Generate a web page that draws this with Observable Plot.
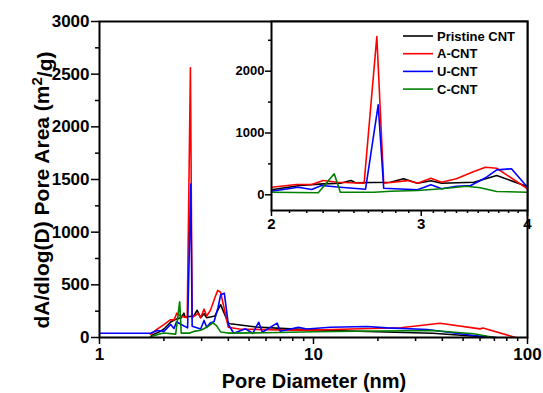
<!DOCTYPE html>
<html>
<head>
<meta charset="utf-8">
<script src="https://cdn.jsdelivr.net/npm/d3@7"></script>
<script src="https://cdn.jsdelivr.net/npm/@observablehq/plot@0.6"></script>
<style>
  html, body { margin: 0; padding: 0; background: white; }
  #wrap { position: relative; width: 543px; height: 393px; }
  #inset { position: absolute; left: 226px; top: 17px; }
  svg { font-family: "Liberation Sans", Arial, sans-serif; }
</style>
</head>
<body>
<div id="wrap"><div id="main"></div><div id="inset"></div></div>
<script>
// ---- data (pore diameter in nm, dA/dlog(D) in m2/g) ----
const seriesNames = ["Pristine CNT", "A-CNT", "U-CNT", "C-CNT"];
const seriesColors = ["#000000", "#ff0000", "#0000ff", "#008000"];

const pristineD = [1.75, 1.93, 2.0, 2.16, 2.3, 2.41, 2.48, 2.51, 2.76, 2.86, 2.97, 3.08, 3.17, 3.46, 3.68, 4.0, 4.09, 5.4, 7.8, 12, 36, 69];
const pristineV = [20, 60, 81, 150, 177, 188, 231, 194, 204, 259, 188, 226, 188, 204, 312, 135, 130, 100, 82, 66, 41, 0];

const aD = [1.73, 1.86, 2.0, 2.14, 2.23, 2.3, 2.39, 2.57, 2.66, 2.71, 2.89, 2.97, 3.08, 3.17, 3.30, 3.46, 3.57, 3.68, 4.0, 4.5, 6, 8, 10, 15, 25.5, 39, 60, 62, 88];
const aV = [30, 80, 123, 167, 167, 231, 204, 188, 2561, 188, 230, 188, 269, 204, 259, 377, 447, 430, 97, 80, 75, 70, 70, 80, 92, 136, 82, 90, 0];

const uD = [1, 1.73, 1.86, 2.0, 2.15, 2.23, 2.29, 2.41, 2.58, 2.67, 2.71, 2.97, 3.08, 3.17, 3.30, 3.43, 3.58, 3.68, 3.83, 4.0, 4.24, 4.81, 5.2, 5.55, 5.76, 6.76, 7.0, 8.5, 9.3, 12, 17.8, 22, 34, 56, 72];
const uV = [41, 41, 66, 58, 123, 86, 150, 123, 91, 1456, 107, 81, 162, 97, 139, 150, 285, 404, 421, 123, 40, 82, 40, 145, 50, 136, 60, 98, 80, 98, 104, 91, 76, 19, 0];

const cD = [1.73, 1.93, 2.0, 2.27, 2.37, 2.41, 2.64, 2.76, 2.97, 3.17, 3.39, 3.52, 3.68, 4.0, 6, 10, 20, 36, 56, 70];
const cV = [8, 35, 42, 32, 340, 42, 42, 58, 69, 97, 139, 113, 53, 42, 45, 55, 62, 66, 35, 0];

const mainXTicks = [1, 10, 100];
const mainXMinor = [2, 3, 4, 5, 6, 7, 8, 9, 20, 30, 40, 50, 60, 70, 80, 90];
const mainYTicks = [0, 500, 1000, 1500, 2000, 2500, 3000];
const mainYMinor = [250, 750, 1250, 1750, 2250, 2750];
const insetXTicks = [2, 3, 4];
const insetXMinor = [2.1, 2.2, 2.3, 2.4, 2.5, 2.6, 2.7, 2.8, 2.9, 3.1, 3.2, 3.3, 3.4, 3.5, 3.6, 3.7, 3.8, 3.9];
const insetYTicks = [0, 1000, 2000];
const insetYMinor = [500, 1500, 2500];

const xTitle = "Pore Diameter (nm)";
const yTitleParts = ["dA/dlog(D) Pore Area (m", "2", "/g)"];

// ---- build rows ----
const seriesD = [pristineD, aD, uD, cD];
const seriesV = [pristineV, aV, uV, cV];
const rows = seriesNames.flatMap((name, k) => seriesD[k].map((d, i) => ({name, d, v: seriesV[k][i]})));

const font = '"Liberation Sans", Arial, sans-serif';
const blank = () => "";

const lines = (clip) => seriesNames.map((name, k) =>
  Plot.line(rows.filter(r => r.name === name), {x: "d", y: "v", stroke: seriesColors[k], strokeWidth: 1.6, clip}));

const main = Plot.plot({
  width: 543, height: 393,
  marginLeft: 99, marginRight: 16, marginTop: 21, marginBottom: 56,
  style: {fontFamily: font, fontWeight: "bold", background: "white", overflow: "visible", color: "black"},
  x: {type: "log", domain: [1, 100], label: null},
  y: {domain: [0, 3000], label: null},
  marks: [
    ...lines(false),
    Plot.axisX({ticks: mainXTicks, tickFormat: d => String(d), tickSize: 7, tickPadding: 3, fontSize: 17, strokeWidth: 1.5, label: null}),
    Plot.axisX({ticks: mainXMinor, tickFormat: blank, tickSize: 4, strokeWidth: 1.5, label: null}),
    Plot.axisY({ticks: mainYTicks, tickFormat: d => String(d), tickSize: 8, tickPadding: 2, fontSize: 17, strokeWidth: 1.5, label: null}),
    Plot.axisY({ticks: mainYMinor, tickFormat: blank, tickSize: 4, strokeWidth: 1.5, label: null}),
    Plot.frame({stroke: "black", strokeWidth: 2})
  ]
});
document.getElementById("main").appendChild(main);

// axis titles
const msvg = d3.select(main);
msvg.append("text")
  .attr("x", 314).attr("y", 388)
  .attr("text-anchor", "middle")
  .attr("font-family", font).attr("font-weight", "bold").attr("font-size", 20)
  .attr("fill", "black")
  .text(xTitle);
const yt = msvg.append("text")
  .attr("transform", "translate(49,190) rotate(-90)")
  .attr("text-anchor", "middle")
  .attr("font-family", font).attr("font-weight", "bold").attr("font-size", 21)
  .attr("fill", "black");
yt.append("tspan").text(yTitleParts[0]);
yt.append("tspan").attr("dy", "-0.5em").attr("font-size", 15).text(yTitleParts[1]);
yt.append("tspan").attr("dy", "0.5em").text(yTitleParts[2]);

// ---- inset ----
const inset = Plot.plot({
  width: 305, height: 221,
  marginLeft: 45, marginRight: 4, marginTop: 4, marginBottom: 28,
  style: {fontFamily: font, fontWeight: "bold", background: "transparent", overflow: "visible", color: "black"},
  x: {type: "log", domain: [2, 4], label: null},
  y: {domain: [-254, 2804], label: null},
  marks: [
    Plot.frame({fill: "white"}),
    ...lines(true),
    Plot.axisX({ticks: insetXTicks, tickFormat: d => String(d), tickSize: 6, tickPadding: 2, fontSize: 15, strokeWidth: 1.5, label: null}),
    Plot.axisX({ticks: insetXMinor, tickFormat: blank, tickSize: 3, strokeWidth: 1.5, label: null}),
    Plot.axisY({ticks: insetYTicks, tickFormat: d => String(d), tickSize: 6, tickPadding: 1, fontSize: 13, strokeWidth: 1.5, label: null}),
    Plot.axisY({ticks: insetYMinor, tickFormat: blank, tickSize: 3, strokeWidth: 1.5, label: null}),
    Plot.frame({stroke: "black", strokeWidth: 2})
  ]
});
document.getElementById("inset").appendChild(inset);

// legend inside inset
const isvg = d3.select(inset);
const lg = isvg.append("g").attr("font-family", font).attr("font-weight", "bold").attr("font-size", 13).attr("text-anchor", "start");
seriesNames.forEach((name, k) => {
  const y = 19 + k * 17.7;
  lg.append("line").attr("x1", 177).attr("x2", 207).attr("y1", y).attr("y2", y)
    .attr("stroke", seriesColors[k]).attr("stroke-width", 1.6);
  lg.append("text").attr("x", 211).attr("y", y).attr("dy", "0.36em").attr("text-anchor", "start").attr("fill", "black").text(name);
});
</script>
</body>
</html>
